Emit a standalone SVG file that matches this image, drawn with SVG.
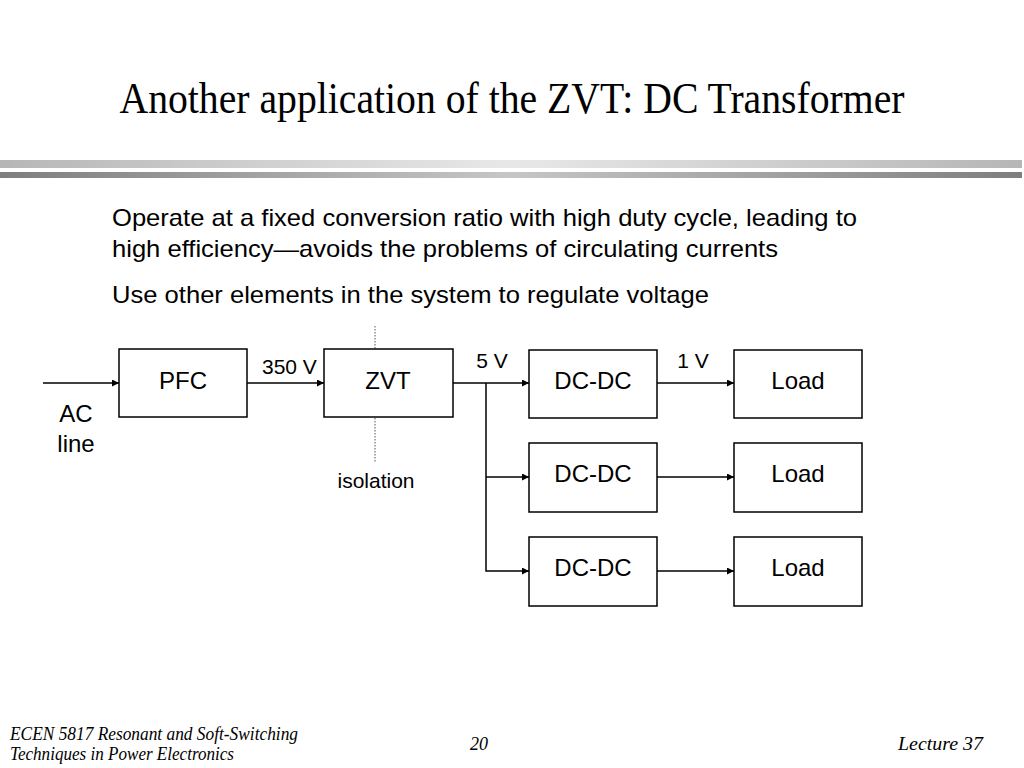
<svg xmlns="http://www.w3.org/2000/svg" width="1024" height="768" viewBox="0 0 1024 768">
<defs>
<linearGradient id="gLight" x1="0" y1="0" x2="1" y2="0">
<stop offset="0" stop-color="#b6b6b6"/>
<stop offset="0.5" stop-color="#e8e8e8"/>
<stop offset="1" stop-color="#b6b6b6"/>
</linearGradient>
<linearGradient id="gDark" x1="0" y1="0" x2="1" y2="0">
<stop offset="0" stop-color="#7e7e7e"/>
<stop offset="0.5" stop-color="#c6c6c6"/>
<stop offset="1" stop-color="#7e7e7e"/>
</linearGradient>
<marker id="arr" viewBox="0 0 10 10" refX="10" refY="5" markerWidth="9" markerHeight="7" markerUnits="userSpaceOnUse" orient="auto">
<path d="M0,0 L10,5 L0,10 Z" fill="#000"/>
</marker>
<style>
.box{fill:#fff;stroke:#000;stroke-width:1.5}
.bl{font-family:"Liberation Sans",Arial,sans-serif;font-size:24px;text-anchor:middle;fill:#000}
.lab{font-family:"Liberation Sans",Arial,sans-serif;font-size:21px;fill:#000}
.body{font-family:"Liberation Sans",Arial,sans-serif;font-size:24px;fill:#000}
.ft{font-family:"Liberation Serif","Times New Roman",serif;font-size:18px;font-style:italic;fill:#000}
.wire{fill:none;stroke:#000;stroke-width:1.5}
.dot{fill:none;stroke:#555;stroke-width:1;stroke-dasharray:1.5 1.5}
</style>
</defs>
<rect width="1024" height="768" fill="#fff"/>
<text x="512" y="113" font-family="'Liberation Serif','Times New Roman',serif" font-size="44" text-anchor="middle" textLength="785" lengthAdjust="spacingAndGlyphs">Another application of the ZVT: DC Transformer</text>
<rect x="0" y="160" width="1022" height="8" fill="url(#gLight)"/>
<rect x="0" y="172" width="1022" height="6" fill="url(#gDark)"/>
<text class="body" x="112" y="226" textLength="745" lengthAdjust="spacingAndGlyphs">Operate at a fixed conversion ratio with high duty cycle, leading to</text>
<text class="body" x="112" y="257" textLength="666" lengthAdjust="spacingAndGlyphs">high efficiency—avoids the problems of circulating currents</text>
<text class="body" x="112" y="303" textLength="597" lengthAdjust="spacingAndGlyphs">Use other elements in the system to regulate voltage</text>
<g id="connectors">
<line class="wire" x1="43" y1="383" x2="119" y2="383" marker-end="url(#arr)"/>
<line class="wire" x1="247" y1="383" x2="324" y2="383" marker-end="url(#arr)"/>
<line class="wire" x1="453" y1="383" x2="529" y2="383" marker-end="url(#arr)"/>
<polyline class="wire" points="486,383 486,571 529,571" marker-end="url(#arr)"/>
<line class="wire" x1="486" y1="477" x2="529" y2="477" marker-end="url(#arr)"/>
<line class="wire" x1="657" y1="383" x2="734" y2="383" marker-end="url(#arr)"/>
<line class="wire" x1="657" y1="477" x2="734" y2="477" marker-end="url(#arr)"/>
<line class="wire" x1="657" y1="571" x2="734" y2="571" marker-end="url(#arr)"/>
<line class="dot" x1="375" y1="326" x2="375" y2="349"/>
<line class="dot" x1="375" y1="418" x2="375" y2="462"/>
</g>
<g id="pfc"><rect class="box" x="119" y="349" width="128" height="68"/><text class="bl" x="183" y="389">PFC</text></g>
<g id="zvt"><rect class="box" x="324" y="349" width="129" height="68"/><text class="bl" x="388" y="389">ZVT</text></g>
<g id="dcdc1"><rect class="box" x="529" y="350" width="128" height="68"/><text class="bl" x="593" y="389">DC-DC</text></g>
<g id="dcdc2"><rect class="box" x="529" y="443" width="128" height="69"/><text class="bl" x="593" y="482">DC-DC</text></g>
<g id="dcdc3"><rect class="box" x="529" y="537" width="128" height="69"/><text class="bl" x="593" y="576">DC-DC</text></g>
<g id="load1"><rect class="box" x="734" y="350" width="128" height="68"/><text class="bl" x="798" y="389">Load</text></g>
<g id="load2"><rect class="box" x="734" y="443" width="128" height="69"/><text class="bl" x="798" y="482">Load</text></g>
<g id="load3"><rect class="box" x="734" y="537" width="128" height="69"/><text class="bl" x="798" y="576">Load</text></g>
<g id="labels">
<text class="lab" x="262" y="374">350 V</text>
<text class="lab" x="492" y="368" text-anchor="middle">5 V</text>
<text class="lab" x="693" y="368" text-anchor="middle">1 V</text>
<text class="bl" x="76" y="422">AC</text>
<text class="bl" x="76" y="452">line</text>
<text class="lab" x="376" y="488" text-anchor="middle" font-size="22">isolation</text>
</g>
<text class="ft" x="10" y="740" textLength="288" lengthAdjust="spacingAndGlyphs">ECEN 5817  Resonant and Soft-Switching</text>
<text class="ft" x="10" y="760" textLength="224" lengthAdjust="spacingAndGlyphs">Techniques in Power Electronics</text>
<text class="ft" x="479" y="750" text-anchor="middle" font-style="normal">20</text>
<text class="ft" x="983" y="750" text-anchor="end" textLength="85" lengthAdjust="spacingAndGlyphs">Lecture 37</text>
</svg>
